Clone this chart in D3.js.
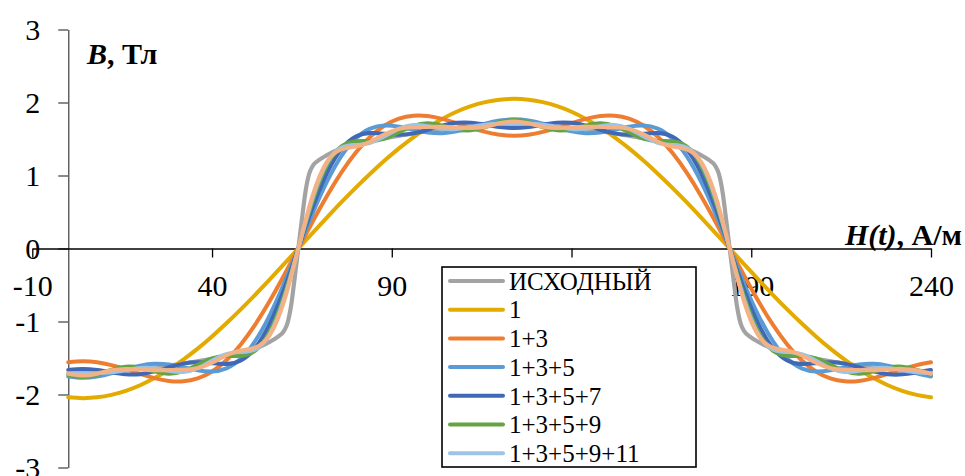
<!DOCTYPE html>
<html>
<head>
<meta charset="utf-8">
<script src="https://cdn.jsdelivr.net/npm/d3@7/dist/d3.min.js"></script>
<style>
  html, body { margin: 0; padding: 0; background: #fff; }
  svg { display: block; }
</style>
</head>
<body>
<svg id="chart" width="965" height="476"></svg>
<script>
// Field strength samples H(t), A/m
const hValues = [0,4,8,12,16,20,24,28,32,36,40,44,48,52,56,60,64,68,72,76,80,84,88,92,96,100,104,108,112,116,120,124,128,132,136,140,144,148,152,156,160,164,168,172,176,180,184,188,192,196,200,204,208,212,216,220,224,228,232,236,240];

// Harmonic partial sums of B, T
const sum1 = [-2.039,-2.050,-2.039,-2.005,-1.950,-1.873,-1.775,-1.659,-1.523,-1.372,-1.205,-1.025,-0.834,-0.634,-0.426,-0.214,0,0.214,0.426,0.634,0.834,1.025,1.205,1.372,1.523,1.659,1.775,1.873,1.950,2.005,2.039,2.050,2.039,2.005,1.950,1.873,1.775,1.659,1.523,1.372,1.205,1.025,0.834,0.634,0.426,0.214,0,-0.214,-0.426,-0.634,-0.834,-1.025,-1.205,-1.372,-1.523,-1.659,-1.775,-1.873,-1.950,-2.005,-2.039];
const sum13 = [-1.558,-1.545,-1.558,-1.597,-1.653,-1.717,-1.775,-1.815,-1.820,-1.780,-1.685,-1.530,-1.314,-1.042,-0.723,-0.370,0,0.370,0.723,1.042,1.314,1.530,1.685,1.780,1.820,1.815,1.775,1.717,1.653,1.597,1.558,1.545,1.558,1.597,1.653,1.717,1.775,1.815,1.820,1.780,1.685,1.530,1.314,1.042,0.723,0.370,0,-0.370,-0.723,-1.042,-1.314,-1.530,-1.685,-1.780,-1.820,-1.815,-1.775,-1.717,-1.653,-1.597,-1.558];
const sum135 = [-1.753,-1.770,-1.753,-1.709,-1.653,-1.604,-1.580,-1.590,-1.625,-1.668,-1.685,-1.643,-1.509,-1.267,-0.918,-0.483,0,0.483,0.918,1.267,1.509,1.643,1.685,1.668,1.625,1.590,1.580,1.604,1.653,1.709,1.753,1.770,1.753,1.709,1.653,1.604,1.580,1.590,1.625,1.668,1.685,1.643,1.509,1.267,0.918,0.483,0,-0.483,-0.918,-1.267,-1.509,-1.643,-1.685,-1.668,-1.625,-1.590,-1.580,-1.604,-1.653,-1.709,-1.753];
const sum1357 = [-1.664,-1.650,-1.664,-1.696,-1.724,-1.722,-1.684,-1.627,-1.577,-1.558,-1.571,-1.583,-1.534,-1.364,-1.037,-0.563,0,0.563,1.037,1.364,1.534,1.583,1.571,1.558,1.577,1.627,1.684,1.722,1.724,1.696,1.664,1.650,1.664,1.696,1.724,1.722,1.684,1.627,1.577,1.558,1.571,1.583,1.534,1.364,1.037,0.563,0,-0.563,-1.037,-1.364,-1.534,-1.583,-1.571,-1.558,-1.577,-1.627,-1.684,-1.722,-1.724,-1.696,-1.664];
const sum1359 = [-1.729,-1.760,-1.729,-1.662,-1.619,-1.633,-1.684,-1.716,-1.681,-1.592,-1.506,-1.473,-1.469,-1.398,-1.142,-0.652,0,0.652,1.142,1.398,1.469,1.473,1.506,1.592,1.681,1.716,1.684,1.633,1.619,1.662,1.729,1.760,1.729,1.662,1.619,1.633,1.684,1.716,1.681,1.592,1.506,1.473,1.469,1.398,1.142,0.652,0,-0.652,-1.142,-1.398,-1.469,-1.473,-1.506,-1.592,-1.681,-1.716,-1.684,-1.633,-1.619,-1.662,-1.729];
const sum135911 = [-1.708,-1.710,-1.708,-1.696,-1.667,-1.638,-1.641,-1.675,-1.692,-1.641,-1.536,-1.448,-1.419,-1.383,-1.179,-0.698,0,0.698,1.179,1.383,1.419,1.448,1.536,1.641,1.692,1.675,1.641,1.638,1.667,1.696,1.708,1.710,1.708,1.696,1.667,1.638,1.641,1.675,1.692,1.641,1.536,1.448,1.419,1.383,1.179,0.698,0,-0.698,-1.179,-1.383,-1.419,-1.448,-1.536,-1.641,-1.692,-1.675,-1.641,-1.638,-1.667,-1.696,-1.708];
const sumAll = [-1.715,-1.740,-1.715,-1.668,-1.649,-1.658,-1.667,-1.666,-1.662,-1.638,-1.564,-1.463,-1.397,-1.358,-1.191,-0.727,0,0.727,1.191,1.358,1.397,1.463,1.564,1.638,1.662,1.666,1.667,1.658,1.649,1.668,1.715,1.740,1.715,1.668,1.649,1.658,1.667,1.666,1.662,1.638,1.564,1.463,1.397,1.358,1.191,0.727,0,-0.727,-1.191,-1.358,-1.397,-1.463,-1.564,-1.638,-1.662,-1.666,-1.667,-1.658,-1.649,-1.668,-1.715];

// Original waveform (own sampling, denser at the switching points)
const origH = [0,4,14,24,34,44,48,52,54,56,58,60,61,62,63,64,65,66,67,68,70,72,74,76,80,84,94,104,114,124,134,144,154,164,168,172,174,176,178,180,181,182,183,184,185,186,187,188,190,192,194,196,200,204,214,224,234,240];
const origB = [-1.685,-1.69,-1.67,-1.63,-1.56,-1.47,-1.42,-1.37,-1.33,-1.28,-1.22,-1.13,-1.02,-0.78,-0.40,0,0.40,0.78,1.02,1.13,1.22,1.28,1.33,1.37,1.42,1.47,1.56,1.63,1.67,1.69,1.67,1.63,1.56,1.47,1.42,1.37,1.33,1.28,1.22,1.13,1.02,0.78,0.40,0,-0.40,-0.78,-1.02,-1.13,-1.22,-1.28,-1.33,-1.37,-1.42,-1.47,-1.56,-1.63,-1.67,-1.685];

const xTicks = [-10, 40, 90, 140, 190, 240];
const xTickLabels = ["-10", "40", "90", "", "190", "240"];
const yTicks = [-3, -2, -1, 0, 1, 2, 3];
const yTickLabels = ["-3", "-2", "-1", "0", "1", "2", "3"];

const seriesNames = ["ИСХОДНЫЙ", "1", "1+3", "1+3+5", "1+3+5+7", "1+3+5+9", "1+3+5+9+11"];
const seriesColors = ["#a3a3a3", "#e3ab00", "#ed7d31", "#5b9bd5", "#4068b6", "#66a443", "#9dc3e6", "#f4b183"];

const serif = '"Liberation Serif", "Times New Roman", serif';
const svg = d3.select("#chart");

const x = d3.scaleLinear().domain([-10, 240]).range([32.3, 931]);
const y = d3.scaleLinear().domain([-3, 3]).range([467.5, 29.5]);

// vertical axis at H = 0
const yAxis = d3.axisLeft(y).tickValues(yTicks).tickSize(10).tickPadding(18).tickSizeOuter(0)
  .tickFormat((d, i) => yTickLabels[i]);
const gy = svg.append("g").attr("transform", `translate(${x(0)},0)`).call(yAxis);
gy.attr("font-family", serif).attr("font-size", 30);
gy.select(".domain").attr("stroke", "#5a5a5a").attr("stroke-width", 1.4);
gy.selectAll(".tick line").attr("stroke", "#5a5a5a").attr("stroke-width", 1.4);
gy.selectAll(".tick text").attr("fill", "#000");

// horizontal axis at B = 0
const xAxis = d3.axisBottom(x).tickValues(xTicks).tickSize(9).tickPadding(17).tickSizeOuter(0)
  .tickFormat((d, i) => xTickLabels[i]);
const gx = svg.append("g").attr("transform", `translate(0,${y(0)})`).call(xAxis);
gx.attr("font-family", serif).attr("font-size", 30);
gx.select(".domain").attr("stroke", "#000").attr("stroke-width", 1.3);
gx.selectAll(".tick line").attr("stroke", "#000").attr("stroke-width", 1.3);
gx.selectAll(".tick text").attr("fill", "#000");

// curves
const smooth = d3.line().x(d => x(d[0])).y(d => y(d[1])).curve(d3.curveNatural);
const sharp = d3.line().x(d => x(d[0])).y(d => y(d[1])).curve(d3.curveMonotoneX);

const sums = [sum1, sum13, sum135, sum1357, sum1359, sum135911, sumAll];
const plot = svg.append("g");

plot.append("path")
  .datum(d3.zip(origH, origB))
  .attr("d", sharp)
  .attr("fill", "none")
  .attr("stroke", seriesColors[0])
  .attr("stroke-width", 4.2)
  .attr("stroke-linejoin", "round");

sums.forEach((vals, i) => {
  plot.append("path")
    .datum(d3.zip(hValues, vals))
    .attr("d", smooth)
    .attr("fill", "none")
    .attr("stroke", seriesColors[i + 1])
    .attr("stroke-width", 4)
    .attr("stroke-linejoin", "round")
    .attr("stroke-linecap", "round");
});

// axis titles
const t1 = svg.append("text").attr("x", 87).attr("y", 64).attr("font-family", serif)
  .attr("font-size", 30).attr("font-weight", "bold");
t1.append("tspan").attr("font-style", "italic").text("B");
t1.append("tspan").text(", Тл");

const t2 = svg.append("text").attr("x", 962).attr("y", 245).attr("text-anchor", "end").attr("font-family", serif)
  .attr("font-size", 30).attr("font-weight", "bold");
t2.append("tspan").attr("font-style", "italic").text("H(t)");
t2.append("tspan").text(", А/м");

// legend
const legend = svg.append("g").attr("transform", "translate(442,267)");
legend.append("rect").attr("width", 254).attr("height", 200)
  .attr("fill", "#fff").attr("stroke", "#000").attr("stroke-width", 1.6);
const rowH = 28.7;
seriesNames.forEach((name, i) => {
  const cy = 14 + i * rowH;
  legend.append("line").attr("x1", 8).attr("x2", 61).attr("y1", cy).attr("y2", cy)
    .attr("stroke", seriesColors[i]).attr("stroke-width", 4).attr("stroke-linecap", "round");
  legend.append("text").attr("x", 67).attr("y", cy).attr("dy", "0.35em").attr("font-family", serif)
    .attr("font-size", 25).text(name);
});
</script>
</body>
</html>
